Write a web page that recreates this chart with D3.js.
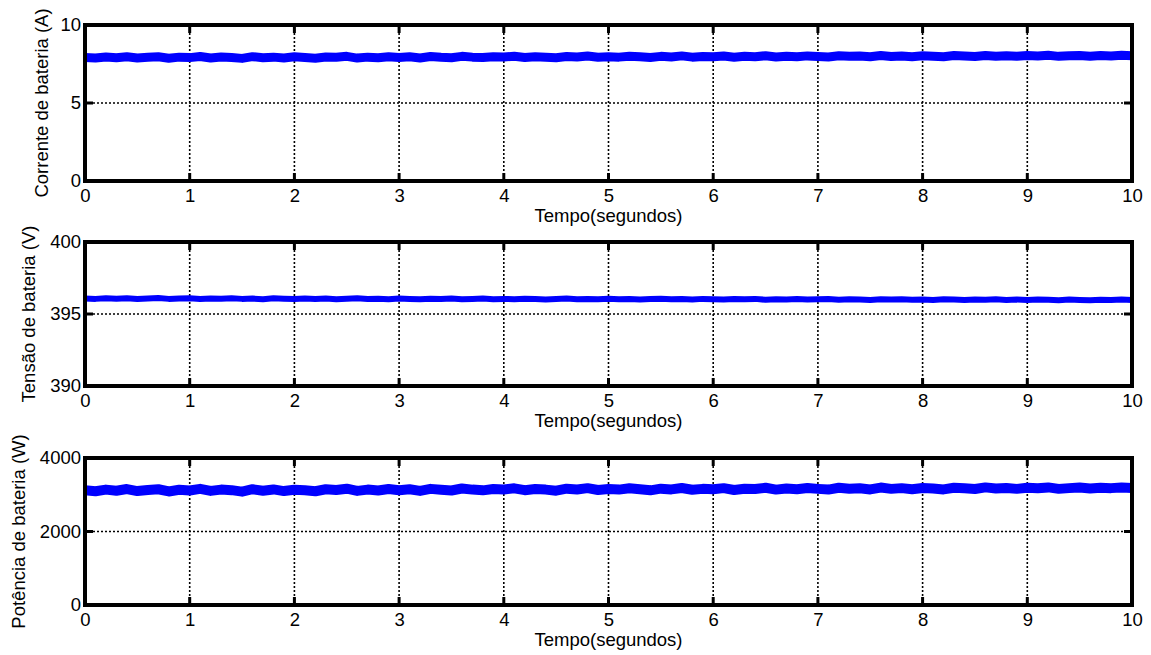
<!DOCTYPE html>
<html>
<head>
<meta charset="utf-8">
<script src="https://cdn.jsdelivr.net/npm/d3@7"></script>
<style>
  body { margin: 0; background: #fff; }
  svg { display: block; font-family: Arial, "Liberation Sans", sans-serif; }
</style>
</head>
<body>
<div id="chart"></div>
<script>
// Window size and the horizontal extent shared by the three plots
const width = 1151;
const height = 655;
const margin = {left: 85, right: 19};
const fontSize = "18.5px";

// Sample times (seconds), one every 0.1 s
const tempo = d3.range(101).map(i => i / 10);
const xTicks = [0, 1, 2, 3, 4, 5, 6, 7, 8, 9, 10];

// Battery current (A)
const corrente = [
  7.92,7.88,7.95,7.90,7.97,7.89,7.93,7.96,7.87,7.94,
  7.91,7.98,7.88,7.95,7.92,7.86,7.97,7.90,7.94,7.89,
  7.96,7.91,7.87,7.95,7.93,7.99,7.88,7.94,7.90,7.97,
  7.92,7.96,7.89,7.98,7.93,7.90,7.99,7.94,7.91,7.97,
  7.95,8.00,7.92,7.97,7.94,7.90,7.98,7.95,8.01,7.93,
  7.97,7.94,8.00,7.96,7.92,7.99,7.95,8.02,7.94,7.98,
  7.96,8.01,7.93,7.99,7.97,8.03,7.95,8.00,7.96,8.02,
  7.98,7.95,8.03,7.99,8.01,7.96,8.04,7.98,8.02,7.97,
  8.03,8.00,7.97,8.04,8.01,7.98,8.05,8.00,8.03,7.99,
  8.04,8.01,8.06,7.99,8.03,8.05,8.00,8.04,8.02,8.06,8.03
];

// Battery voltage (V), middle plot
const tensao = [
  396.08,396.05,396.10,396.06,396.09,396.04,396.08,396.11,396.05,396.07,
  396.09,396.04,396.08,396.06,396.10,396.05,396.07,396.03,396.09,396.06,
  396.04,396.08,396.05,396.07,396.03,396.06,396.09,396.04,396.06,396.02,
  396.07,396.05,396.03,396.06,396.04,396.08,396.03,396.05,396.07,396.02,
  396.05,396.03,396.06,396.04,396.01,396.05,396.07,396.03,396.05,396.02,
  396.06,396.03,396.05,396.01,396.04,396.06,396.02,396.04,396.00,396.05,
  396.03,396.01,396.04,396.02,396.05,395.99,396.03,396.01,396.04,396.00,
  396.02,396.04,395.99,396.03,396.01,395.98,396.02,396.00,396.03,395.99,
  396.01,395.98,396.02,396.00,395.97,396.01,395.99,396.02,395.98,396.00,
  395.97,396.01,395.99,395.96,396.00,395.98,395.96,395.99,395.97,396.00,395.97
];

// Battery power (W), bottom plot
const potencia = [
  3120,3095,3140,3110,3155,3100,3130,3150,3090,3135,
  3115,3160,3105,3140,3125,3085,3150,3110,3145,3100,
  3135,3120,3095,3150,3130,3165,3105,3140,3115,3155,
  3125,3150,3105,3160,3135,3115,3170,3140,3120,3155,
  3145,3175,3125,3155,3140,3110,3165,3145,3180,3130,
  3155,3140,3175,3150,3120,3165,3145,3185,3135,3160,
  3150,3180,3130,3165,3155,3190,3140,3170,3150,3185,
  3160,3140,3190,3165,3175,3145,3195,3160,3180,3150,
  3185,3170,3145,3190,3175,3155,3200,3170,3185,3160,
  3190,3175,3200,3160,3180,3195,3170,3190,3180,3200,3185
];

// One entry per subplot
const panels = [
  {values: corrente, domain: [0, 10], ticks: [0, 5, 10], label: "Corrente de bateria (A)",
   top: 25, bottom: 181, labelX: 48, lineWidth: 9},
  {values: tensao, domain: [390, 400], ticks: [390, 395, 400], label: "Tensão de bateria (V)",
   top: 242, bottom: 386, labelX: 35, lineWidth: 6},
  {values: potencia, domain: [0, 4000], ticks: [0, 2000, 4000], label: "Potência de bateria (W)",
   top: 458, bottom: 605, labelX: 25, lineWidth: 10}
];

const svg = d3.select("#chart")
  .append("svg")
  .attr("width", width)
  .attr("height", height);

const x = d3.scaleLinear()
  .domain([0, 10])
  .range([margin.left, width - margin.right]);

const tickLen = 8;

panels.forEach(p => {
  const y = d3.scaleLinear().domain(p.domain).range([p.bottom, p.top]);
  const g = svg.append("g");

  // dotted grid
  g.selectAll(".gx")
    .data(xTicks.slice(1, -1))
    .enter().append("line")
      .attr("x1", d => x(d)).attr("x2", d => x(d))
      .attr("y1", p.top).attr("y2", p.bottom)
      .attr("stroke", "#000").attr("stroke-width", 1.6)
      .attr("stroke-dasharray", "2,2");
  g.selectAll(".gy")
    .data(p.ticks.slice(1, -1))
    .enter().append("line")
      .attr("x1", x(0)).attr("x2", x(10))
      .attr("y1", d => y(d)).attr("y2", d => y(d))
      .attr("stroke", "#000").attr("stroke-width", 1.6)
      .attr("stroke-dasharray", "2,2");

  // signal
  const line = d3.line()
    .x((d, i) => x(tempo[i]))
    .y(d => y(d));
  g.append("path")
    .datum(p.values)
    .attr("d", line)
    .attr("fill", "none")
    .attr("stroke", "#0000ff")
    .attr("stroke-width", p.lineWidth)
    .attr("stroke-linejoin", "round");

  // inward tick marks on all four sides
  xTicks.forEach(t => {
    g.append("line").attr("x1", x(t)).attr("x2", x(t))
      .attr("y1", p.bottom).attr("y2", p.bottom - tickLen)
      .attr("stroke", "#000").attr("stroke-width", 3);
    g.append("line").attr("x1", x(t)).attr("x2", x(t))
      .attr("y1", p.top).attr("y2", p.top + tickLen)
      .attr("stroke", "#000").attr("stroke-width", 3);
  });
  p.ticks.forEach(t => {
    g.append("line").attr("x1", x(0)).attr("x2", x(0) + tickLen)
      .attr("y1", y(t)).attr("y2", y(t))
      .attr("stroke", "#000").attr("stroke-width", 3);
    g.append("line").attr("x1", x(10)).attr("x2", x(10) - tickLen)
      .attr("y1", y(t)).attr("y2", y(t))
      .attr("stroke", "#000").attr("stroke-width", 3);
  });

  // frame
  g.append("rect")
    .attr("x", x(0)).attr("y", p.top)
    .attr("width", x(10) - x(0)).attr("height", p.bottom - p.top)
    .attr("fill", "none").attr("stroke", "#000").attr("stroke-width", 4);

  // tick labels through d3 axes
  const ax = g.append("g")
    .attr("transform", `translate(0,${p.bottom})`)
    .call(d3.axisBottom(x).tickValues(xTicks).tickSize(0).tickPadding(8).tickFormat(d3.format("d")));
  ax.select(".domain").remove();
  ax.selectAll("text").attr("font-size", fontSize).attr("fill", "#000")
    .attr("font-family", "Arial, 'Liberation Sans', sans-serif");

  const ay = g.append("g")
    .attr("transform", `translate(${x(0)},0)`)
    .call(d3.axisLeft(y).tickValues(p.ticks).tickSize(0).tickPadding(4).tickFormat(d3.format("d")));
  ay.select(".domain").remove();
  ay.selectAll("text").attr("font-size", fontSize).attr("fill", "#000")
    .attr("font-family", "Arial, 'Liberation Sans', sans-serif");

  // axis titles
  g.append("text")
    .attr("x", (x(0) + x(10)) / 2)
    .attr("y", p.bottom + 41)
    .attr("text-anchor", "middle")
    .attr("font-size", fontSize)
    .text("Tempo(segundos)");

  g.append("text")
    .attr("transform", `translate(${p.labelX},${(p.top + p.bottom) / 2}) rotate(-90)`)
    .attr("text-anchor", "middle")
    .attr("font-size", fontSize)
    .text(p.label);
});
</script>
</body>
</html>
